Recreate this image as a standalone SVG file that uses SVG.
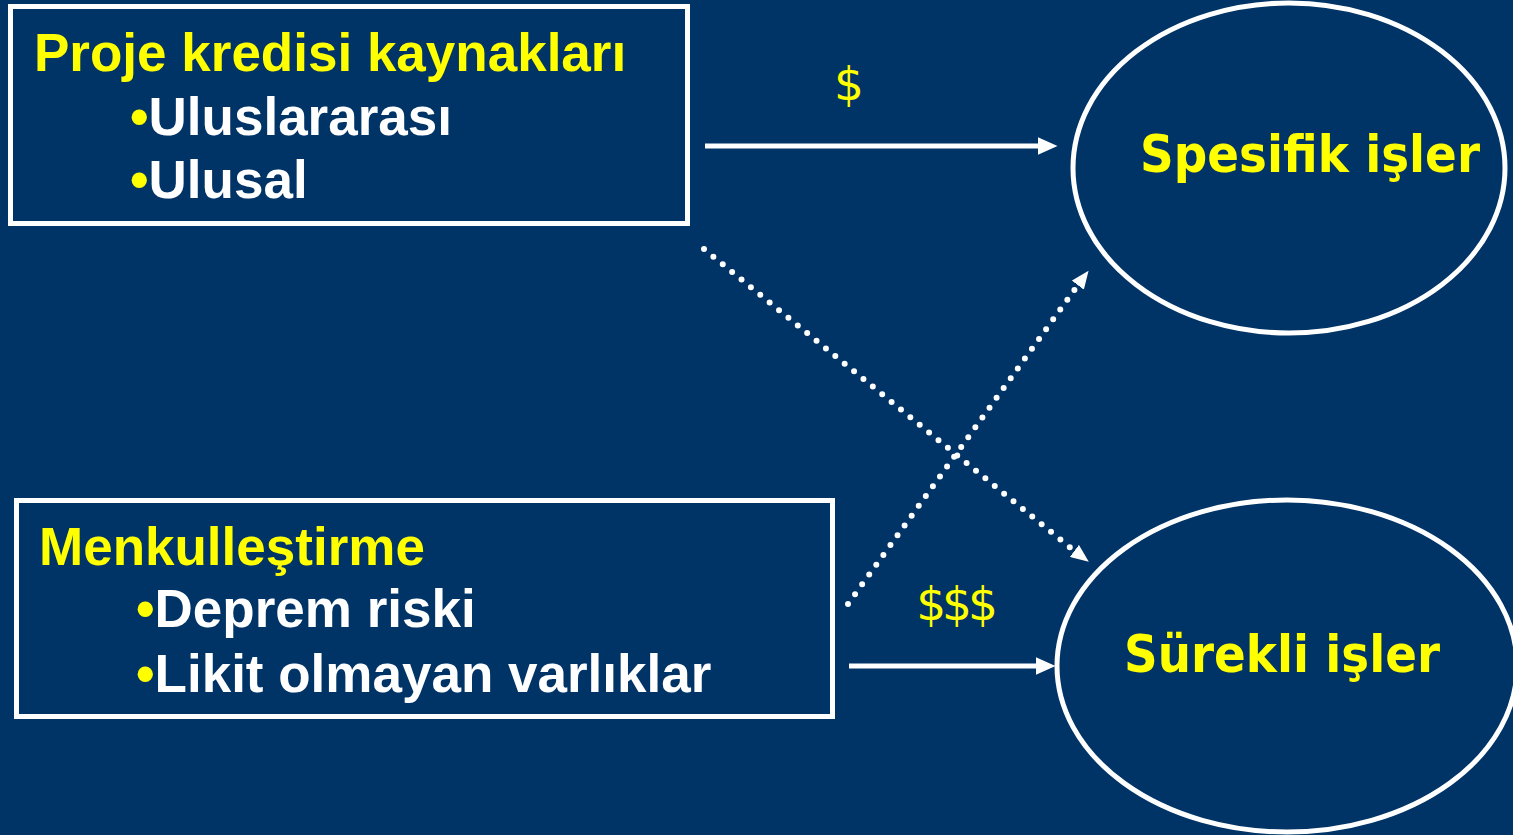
<svg xmlns="http://www.w3.org/2000/svg" width="1513" height="835" viewBox="0 0 1513 835">
<style>
.box{fill:none;stroke:#fff;stroke-width:5}
.ell{fill:none;stroke:#fff;stroke-width:5}
.bt{font-family:"Liberation Sans",Arial,sans-serif;font-weight:bold;font-size:53px;fill:#fff}
.y{fill:#ff0}
.et{font-family:"DejaVu Sans",Verdana,sans-serif;font-weight:bold;font-size:52px;fill:#ff0}
.dl{font-family:"DejaVu Sans",Verdana,sans-serif;font-size:47px;fill:#ff0}
.solid{stroke:#fff;stroke-width:5;fill:none}
.dot{stroke:#fff;stroke-width:6;fill:none;stroke-linecap:round;stroke-dasharray:0 12.1}
</style>
<defs>
<marker id="ah" viewBox="0 0 20 18" refX="0.5" refY="9" markerWidth="20" markerHeight="18" markerUnits="userSpaceOnUse" orient="auto">
<path d="M0,0 L20,9 L0,18 z" fill="#fff"/>
</marker>
<marker id="ahs" viewBox="0 0 18 15" refX="0.5" refY="7.5" markerWidth="18" markerHeight="15" markerUnits="userSpaceOnUse" orient="auto">
<path d="M0,0 L18,7.5 L0,15 z" fill="#fff"/>
</marker>
</defs>
<rect width="1513" height="835" fill="#003366"/>
<g id="n-proje">
<rect class="box" x="10.5" y="6.5" width="677" height="217"/>
<text class="bt" x="34" y="71"><tspan class="y">Proje kredisi kaynakları</tspan></text>
<text class="bt" x="130" y="135"><tspan class="y">•</tspan>Uluslararası</text>
<text class="bt" x="130" y="198"><tspan class="y">•</tspan>Ulusal</text>
</g>
<g id="n-menkul">
<rect class="box" x="16.5" y="500.5" width="816" height="216"/>
<text class="bt" x="39" y="565"><tspan class="y">Menkulleştirme</tspan></text>
<text class="bt" x="136" y="627"><tspan class="y">•</tspan>Deprem riski</text>
<text class="bt" x="136" y="692"><tspan class="y">•</tspan>Likit olmayan varlıklar</text>
</g>
<g id="n-spesifik">
<ellipse class="ell" cx="1289" cy="168" rx="216" ry="165"/>
<text class="et" x="1140" y="172" textLength="340" lengthAdjust="spacingAndGlyphs">Spesifik işler</text>
</g>
<g id="n-surekli">
<ellipse class="ell" cx="1287" cy="666" rx="230" ry="166"/>
<text class="et" x="1124" y="672" textLength="316" lengthAdjust="spacingAndGlyphs">Sürekli işler</text>
</g>
<g id="connectors">
<line class="solid" x1="705" y1="146" x2="1038" y2="146" marker-end="url(#ah)"/>
<line class="solid" x1="849" y1="666" x2="1036" y2="666" marker-end="url(#ah)"/>
<line class="dot" x1="704" y1="249" x2="1074" y2="550.6"/>
<line x1="1074" y1="550.6" x2="1074.8" y2="551.2" stroke="none" marker-end="url(#ahs)"/>
<line class="dot" x1="848" y1="604" x2="1077.5" y2="285.6"/>
<line x1="1077.5" y1="285.6" x2="1078.1" y2="284.8" stroke="none" marker-end="url(#ahs)"/>
<text class="dl" x="849" y="100" text-anchor="middle">$</text>
<text class="dl" x="955" y="620" text-anchor="middle" letter-spacing="-4">$$$</text>
</g>
</svg>
